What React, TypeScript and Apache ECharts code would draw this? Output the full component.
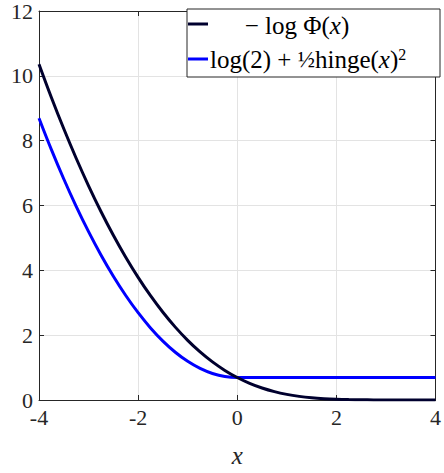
import React, { useEffect, useRef } from "react";
import * as echarts from "echarts";

const xVals = [-4, -3.75, -3.5, -3.25, -3, -2.75, -2.5, -2.25, -2, -1.75, -1.5, -1.25, -1, -0.75, -0.5, -0.25, 0, 0.25, 0.5, 0.75, 1, 1.25, 1.5, 1.75, 2, 2.25, 2.5, 2.75, 3, 3.25, 3.5, 3.75, 4];
const negLogPhi = [10.36, 9.333, 8.366, 7.458, 6.608, 5.816, 5.082, 4.404, 3.783, 3.217, 2.706, 2.248, 1.841, 1.484, 1.176, 0.913, 0.693, 0.513, 0.369, 0.257, 0.173, 0.112, 0.069, 0.041, 0.023, 0.012, 0.006, 0.003, 0.001, 0.0006, 0.0002, 0.0001, 0.00003];
const hingeBound = [8.693, 7.724, 6.818, 5.974, 5.193, 4.474, 3.818, 3.224, 2.693, 2.224, 1.818, 1.474, 1.193, 0.974, 0.818, 0.724, 0.693, 0.693, 0.693, 0.693, 0.693, 0.693, 0.693, 0.693, 0.693, 0.693, 0.693, 0.693, 0.693, 0.693, 0.693, 0.693, 0.693];
const xTicks = ["-4", "-2", "0", "2", "4"];

const NAVY = "#00002e";
const BLUE = "#0000ff";
const AXIS = "#262626";
const FONT = "Liberation Serif";

export default function App() {
  const ref = useRef<HTMLDivElement>(null);
  useEffect(() => {
    if (!ref.current) return;
    const chart = echarts.init(ref.current, null, { renderer: "svg" });
    const pair = (ys: number[]) => xVals.map((x, i) => [x, ys[i]]);
    const gridLine = { show: true, lineStyle: { color: "#e3e3e3", width: 1 } };
    const hiddenAxisCommon = {
      axisLine: { show: true, onZero: false, lineStyle: { color: AXIS, width: 1 } },
      axisTick: { show: true, inside: true, length: 5, lineStyle: { color: AXIS } },
      axisLabel: { show: false },
      splitLine: { show: false },
    };
    chart.setOption({
      animation: false,
      backgroundColor: "#ffffff",
      grid: { left: 39, right: 5, top: 9, bottom: 63, containLabel: false },
      xAxis: [
        {
          type: "value",
          min: -4,
          max: 4,
          interval: 2,
          name: "x",
          nameLocation: "middle",
          nameGap: 43,
          nameTextStyle: { fontFamily: FONT, fontStyle: "italic", fontSize: 25, color: AXIS },
          axisLine: { show: true, onZero: false, lineStyle: { color: AXIS, width: 1 } },
          axisTick: { show: true, inside: true, length: 5, lineStyle: { color: AXIS } },
          axisLabel: {
            fontFamily: FONT,
            fontSize: 22,
            color: AXIS,
            margin: 6,
            formatter: (v: number) => xTicks[Math.round((v + 4) / 2)] ?? String(v),
          },
          splitLine: gridLine,
        },
        { type: "value", position: "top", min: -4, max: 4, interval: 2, ...hiddenAxisCommon },
      ],
      yAxis: [
        {
          type: "value",
          min: 0,
          max: 12,
          interval: 2,
          axisLine: { show: true, onZero: false, lineStyle: { color: AXIS, width: 1 } },
          axisTick: { show: true, inside: true, length: 5, lineStyle: { color: AXIS } },
          axisLabel: { fontFamily: FONT, fontSize: 22, color: AXIS, margin: 6, padding: [0, 0, 6, 0] },
          splitLine: gridLine,
        },
        { type: "value", position: "right", min: 0, max: 12, interval: 2, ...hiddenAxisCommon },
      ],
      series: [
        {
          type: "line",
          name: "-log Phi(x)",
          data: pair(negLogPhi),
          smooth: 0.4,
          showSymbol: false,
          lineStyle: { color: NAVY, width: 3 },
          itemStyle: { color: NAVY },
          z: 3,
        },
        {
          type: "line",
          name: "log(2) + 1/2 hinge(x)^2",
          data: pair(hingeBound),
          smooth: 0.4,
          showSymbol: false,
          lineStyle: { color: BLUE, width: 3 },
          itemStyle: { color: BLUE },
          z: 2,
        },
      ],
      graphic: [
        {
          type: "rect",
          shape: { x: 187, y: 9, width: 253, height: 68 },
          style: { fill: "#ffffff", stroke: AXIS, lineWidth: 1 },
          z: 10,
        },
        {
          type: "line",
          shape: { x1: 188, y1: 24, x2: 208, y2: 24 },
          style: { stroke: NAVY, lineWidth: 3 },
          z: 11,
        },
        {
          type: "line",
          shape: { x1: 188, y1: 59, x2: 208, y2: 59 },
          style: { stroke: BLUE, lineWidth: 3 },
          z: 11,
        },
        {
          type: "text",
          x: 297,
          y: 25,
          z: 11,
          style: {
            text: "{a|− log Φ(}{i|x}{a|)}",
            align: "center",
            verticalAlign: "middle",
            rich: {
              a: { fontFamily: FONT, fontSize: 25, fill: "#000" },
              i: { fontFamily: FONT, fontSize: 25, fontStyle: "italic", fill: "#000" },
            },
          },
        },
        {
          type: "text",
          x: 210,
          y: 59,
          z: 11,
          style: {
            text: "{a|log(2) + }{f|½}{a|hinge(}{i|x}{a|)}{s|2}",
            align: "left",
            verticalAlign: "middle",
            rich: {
              a: { fontFamily: FONT, fontSize: 25, fill: "#000" },
              i: { fontFamily: FONT, fontSize: 25, fontStyle: "italic", fill: "#000" },
              f: { fontFamily: FONT, fontSize: 23, fill: "#000" },
              s: { fontFamily: FONT, fontSize: 16, fill: "#000", verticalAlign: "top", padding: [0, 0, 10, 0] },
            },
          },
        },
      ],
    });
    return () => chart.dispose();
  }, []);
  return <div ref={ref} style={{ width: 444, height: 473, position: "absolute", left: 0, top: 0 }} />;
}
